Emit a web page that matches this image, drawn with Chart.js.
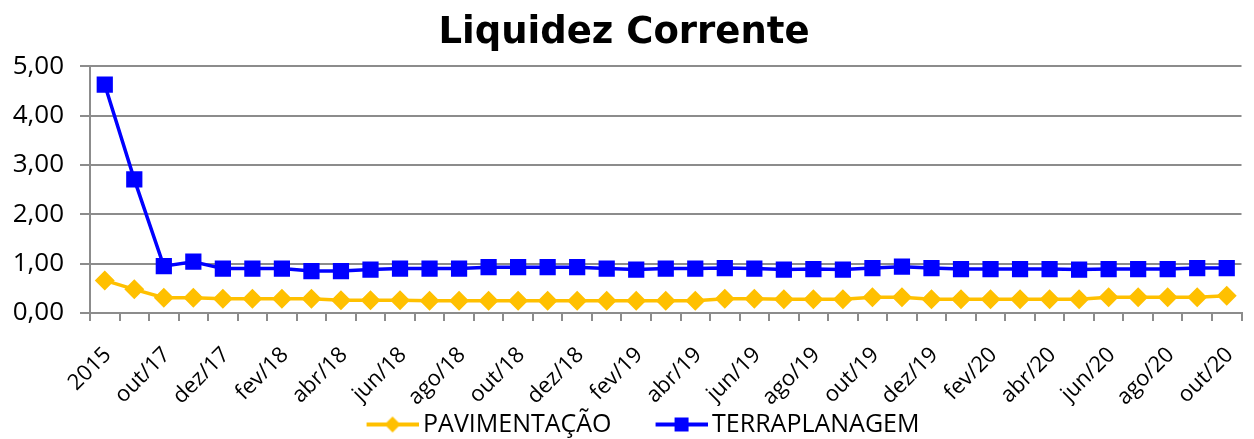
<!DOCTYPE html>
<html lang="pt">
<head>
  <meta charset="UTF-8">
  <title>Liquidez Corrente</title>
  <style>
    body { margin: 0; padding: 0; background: #fff; }
    #chart-container { width: 1254px; height: 439px; }
    canvas { display: block; }
  </style>
  <script src="https://cdn.jsdelivr.net/npm/chart.js"></script>
</head>
<body>
  <div id="chart-container">
    <canvas id="lcChart" width="1254" height="439"></canvas>
  </div>
  <script>
    // categorias (rótulo a cada dois pontos no eixo)
    const labels = [
      '2015', '2016', 'out/17', 'nov/17', 'dez/17', 'jan/18', 'fev/18', 'mar/18', 'abr/18', 'mai/18',
      'jun/18', 'jul/18', 'ago/18', 'set/18', 'out/18', 'nov/18', 'dez/18', 'jan/19', 'fev/19', 'mar/19',
      'abr/19', 'mai/19', 'jun/19', 'jul/19', 'ago/19', 'set/19', 'out/19', 'nov/19', 'dez/19', 'jan/20',
      'fev/20', 'mar/20', 'abr/20', 'mai/20', 'jun/20', 'jul/20', 'ago/20', 'set/20', 'out/20'
    ];
    const pavimentacao = [
      0.66, 0.48, 0.31, 0.31, 0.29, 0.29, 0.29, 0.29, 0.26, 0.26,
      0.26, 0.25, 0.25, 0.25, 0.25, 0.25, 0.25, 0.25, 0.25, 0.25,
      0.25, 0.29, 0.29, 0.28, 0.28, 0.28, 0.32, 0.32, 0.28, 0.28,
      0.28, 0.28, 0.28, 0.28, 0.32, 0.32, 0.32, 0.32, 0.35
    ];
    const terraplanagem = [
      4.63, 2.71, 0.95, 1.04, 0.90, 0.90, 0.90, 0.85, 0.85, 0.88,
      0.90, 0.90, 0.90, 0.93, 0.93, 0.93, 0.93, 0.90, 0.88, 0.90,
      0.90, 0.91, 0.90, 0.88, 0.89, 0.88, 0.91, 0.94, 0.91, 0.89,
      0.89, 0.89, 0.89, 0.88, 0.89, 0.89, 0.89, 0.91, 0.91
    ];
    const yTicks = [0, 1, 2, 3, 4, 5];

    const YELLOW = '#FFC000';
    const BLUE = '#0000FF';
    const GRID = '#8C8C8C';

    // ícone da legenda: espaço em branco à esquerda + linha com marcador
    const ICON_W = 98;
    const legendIcon = (color, shape) => {
      const c = document.createElement('canvas');
      c.width = ICON_W; c.height = 20;
      const g = c.getContext('2d');
      const x0 = ICON_W - 52, mid = ICON_W - 26;
      g.strokeStyle = color; g.lineWidth = 4;
      g.beginPath(); g.moveTo(x0, 10); g.lineTo(ICON_W, 10); g.stroke();
      g.fillStyle = color;
      if (shape === 'diamond') {
        g.beginPath(); g.moveTo(mid, 2); g.lineTo(mid + 8, 10); g.lineTo(mid, 18); g.lineTo(mid - 8, 10); g.closePath(); g.fill();
      } else {
        g.fillRect(mid - 7, 3, 14, 14);
      }
      return c;
    };

    const ctx = document.getElementById('lcChart').getContext('2d');
    new Chart(ctx, {
      type: 'line',
      data: {
        labels: labels,
        datasets: [
          {
            label: 'PAVIMENTAÇÃO', data: pavimentacao,
            borderColor: YELLOW, backgroundColor: YELLOW, borderWidth: 3.5,
            pointStyle: 'rectRot', pointRadius: 7.5, pointHoverRadius: 7.5,
            legendIcon: legendIcon(YELLOW, 'diamond')
          },
          {
            label: 'TERRAPLANAGEM', data: terraplanagem,
            borderColor: BLUE, backgroundColor: BLUE, borderWidth: 3.5,
            pointStyle: 'rect', pointRadius: 9, pointHoverRadius: 9,
            legendIcon: legendIcon(BLUE, 'square')
          }
        ]
      },
      options: {
        responsive: false,
        animation: false,
        layout: { padding: { left: 0, right: 6, top: 0, bottom: -8 } },
        plugins: {
          title: {
            display: true, text: 'Liquidez Corrente', color: '#000',
            font: { family: 'DejaVu Sans', size: 37, weight: 'bold' },
            padding: { top: 11, bottom: 11 }
          },
          legend: {
            position: 'bottom',
            labels: {
              usePointStyle: true, pointStyleWidth: ICON_W - 16, padding: 6,
              color: '#000', font: { family: 'Open Sans', size: 25 },
              generateLabels: (chart) => chart.data.datasets.map((ds, i) => ({
                text: ds.label, pointStyle: ds.legendIcon, fillStyle: ds.borderColor,
                strokeStyle: ds.borderColor, lineWidth: 0, datasetIndex: i, hidden: false
              }))
            }
          },
          tooltip: { enabled: false }
        },
        scales: {
          x: {
            offset: true,
            afterFit: (axis) => { axis.height = 93; axis.paddingLeft = 0; axis.paddingRight = 0; },
            grid: { offset: true, drawOnChartArea: false, drawTicks: true, tickLength: 8, color: GRID, lineWidth: 2 },
            border: { color: GRID, width: 2 },
            ticks: {
              autoSkip: false, maxRotation: 45, minRotation: 45, color: '#000',
              font: { family: 'Open Sans', size: 22 }, labelOffset: 3, padding: 21,
              callback: function (v, i) { return i % 2 === 0 ? labels[i] : ''; }
            }
          },
          y: {
            min: 0, max: 5,
            afterBuildTicks: (axis) => { axis.ticks = yTicks.map(v => ({ value: v })); },
            afterFit: (axis) => { axis.width = 90; },
            grid: { color: GRID, lineWidth: 2, tickLength: 10 },
            border: { color: GRID, width: 2 },
            ticks: {
              color: '#000', font: { family: 'Open Sans', size: 26 }, padding: 16,
              callback: (v) => v.toFixed(2).replace('.', ',')
            }
          }
        }
      }
    });
  </script>
</body>
</html>
